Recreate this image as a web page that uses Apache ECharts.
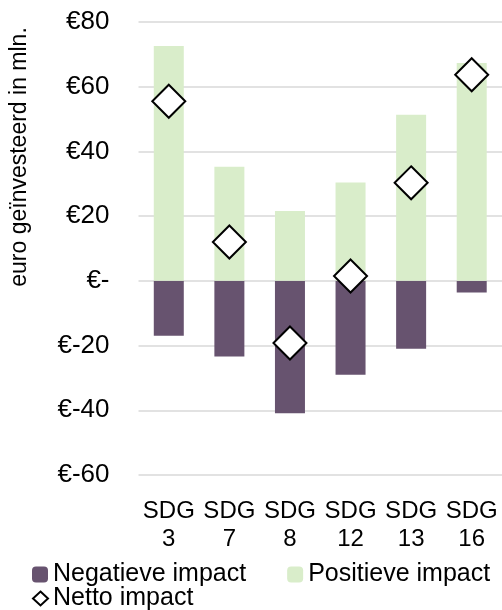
<!DOCTYPE html>
<html>
<head>
<meta charset="utf-8">
<script src="https://cdn.jsdelivr.net/npm/echarts@6/dist/echarts.min.js"></script>
<style>
html,body{margin:0;padding:0;background:#fff;}
#c{width:502px;height:610px;}
</style>
</head>
<body>
<div id="c"></div>
<script>
var categories = ['SDG 3', 'SDG 7', 'SDG 8', 'SDG 12', 'SDG 13', 'SDG 16'];
var negatief = [-17.0, -23.4, -40.9, -29.0, -21.0, -3.6];
var positief = [72.6, 35.3, 21.6, 30.4, 51.3, 67.3];
var netto = [55.5, 12.0, -19.2, 1.5, 30.3, 63.7];
var yTicks = { min: -60, max: 80, interval: 20 };

var FONT = "'Liberation Sans', Arial, Helvetica, sans-serif";
var chart = echarts.init(document.getElementById('c'), null, { renderer: 'canvas' });
chart.setOption({
  animation: false,
  textStyle: { fontFamily: FONT },
  grid: { left: 138.5, right: -3, top: 22, bottom: 135, containLabel: false },
  xAxis: {
    type: 'category',
    data: categories,
    axisLine: { show: false },
    axisTick: { show: false },
    axisLabel: {
      interval: 0,
      fontSize: 24, color: '#000', fontFamily: FONT, margin: 22, lineHeight: 28,
      formatter: function (v) { return v.replace(' ', '\n'); }
    }
  },
  yAxis: {
    type: 'value',
    min: yTicks.min, max: yTicks.max, interval: yTicks.interval,
    axisLine: { show: false },
    axisTick: { show: false },
    splitLine: { lineStyle: { color: '#D9D9D9', width: 1.5 } },
    axisLabel: {
      fontSize: 26, color: '#000', fontFamily: FONT, margin: 29,
      formatter: function (v) { return v === 0 ? '€-' : '€' + v; }
    }
  },
  graphic: [{
    type: 'text',
    x: 20, y: 157,
    rotation: Math.PI / 2,
    style: {
      text: 'euro geïnvesteerd in mln.',
      fontSize: 23, fontFamily: FONT, fill: '#000',
      align: 'center', verticalAlign: 'middle'
    }
  }],
  legend: [{
    left: 32, top: 562, padding: 0,
    itemWidth: 16, itemHeight: 16, itemGap: 41,
    textStyle: { fontSize: 25, color: '#000', fontFamily: FONT },
    data: ['Negatieve impact', 'Positieve impact']
  }, {
    left: 32, top: 586, padding: 0,
    itemWidth: 15, itemHeight: 14,
    textStyle: { fontSize: 25, color: '#000', fontFamily: FONT },
    data: [{ name: 'Netto impact', itemStyle: { borderWidth: 2 } }]
  }],
  series: [{
    name: 'Negatieve impact',
    type: 'bar',
    data: negatief,
    barWidth: 30,
    barGap: '-100%',
    itemStyle: { color: '#67536F' }
  }, {
    name: 'Positieve impact',
    type: 'bar',
    data: positief,
    barWidth: 30,
    itemStyle: { color: '#D9EDCA' }
  }, {
    name: 'Netto impact',
    type: 'scatter',
    data: netto,
    symbol: 'diamond',
    symbolSize: 33,
    z: 5,
    itemStyle: { color: '#fff', borderColor: '#000', borderWidth: 2, opacity: 1 }
  }]
});
</script>
</body>
</html>
